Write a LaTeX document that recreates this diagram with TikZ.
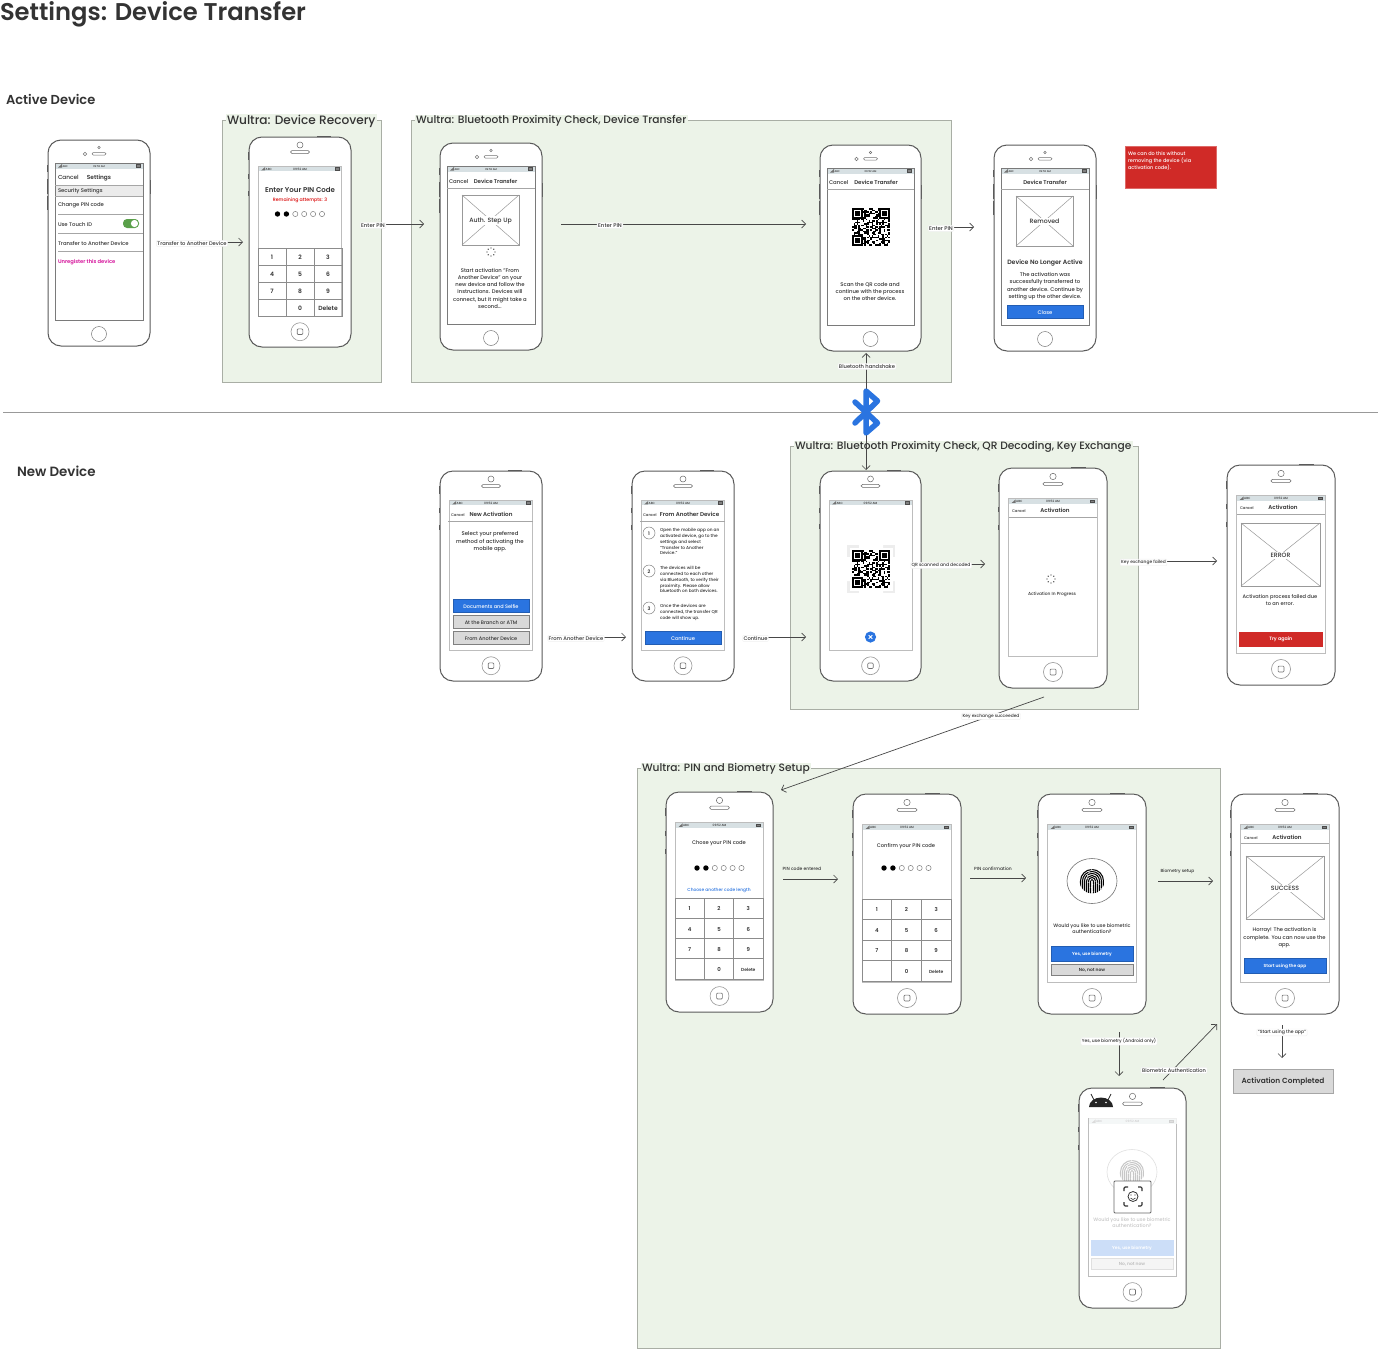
\documentclass[tikz,border=0pt]{standalone}
\usepackage{fontspec}
\setmainfont{Poppins}[UprightFont=* Medium,BoldFont=* SemiBold]
\usetikzlibrary{arrows.meta}
\definecolor{ink}{HTML}{333333}
\definecolor{groupfill}{HTML}{ECF3E8}
\definecolor{groupline}{HTML}{A9AEA5}
\definecolor{bodyline}{HTML}{5A5A5A}
\definecolor{scrline}{HTML}{7A7A7A}
\definecolor{scrlight}{HTML}{BDBDBD}
\definecolor{statusbg}{HTML}{D7E0E3}
\definecolor{brandblue}{HTML}{2A74E0}
\definecolor{brandred}{HTML}{D02A27}
\definecolor{btngrey}{HTML}{D9D9D9}
\definecolor{magentatext}{HTML}{D5109A}
\definecolor{toggle}{HTML}{5AA04A}
\newcounter{tn}
\tikzset{
  x=1pt,y=-1pt,
  txt/.style={inner sep=0pt,outer sep=0pt,text=ink,yshift=-.7pt},
  phonebody/.style={draw=bodyline,fill=white,line width=1pt,rounded corners=13pt,inner sep=0pt,outer sep=0pt},
  sidebtn/.style={fill=bodyline,draw=none},
  conn/.style={draw=ink!90,line width=.7pt,-{Straight Barb[length=4pt,width=8pt]}},
  connlabel/.style={txt,fill=white,inner sep=1pt,rounded corners=1pt,draw=black!6,line width=.4pt},
  rowline/.style={draw=black!35,line width=.7pt},
  keyline/.style={draw=black!45,line width=.7pt},
}
\newcommand\T[5][]{\stepcounter{tn}\node[txt,font=\fontsize{#4}{#4}\selectfont,#1] (t\arabic{tn}) at ({#2},{#3}) {#5};}
\newcommand\B[6][]{\stepcounter{tn}\node[txt,align=center,font=\fontsize{#4}{#5}\selectfont,#1] (t\arabic{tn}) at ({#2},{#3}) {#6};}
\newcommand\statusbar[4]{% x0 y0 x1 textsize
  \fill[statusbg] (#1,#2) rectangle (#3,{#2+5.5});
  \fill[black!55] ({#1+3},{#2+4.5}) -- ({#1+7},{#2+4.5}) -- ({#1+7},{#2+1}) -- cycle;
  \T[anchor=west]{#1+7.5}{#2+2.8}{#4}{ABC}
  \T{(#1+#3)/2}{#2+2.8}{#4}{09:52 AM}
  \draw[black!70,fill=black!50,line width=.3pt] ({#3-7},{#2+1.4}) rectangle ({#3-3},{#2+4});
}
\newcommand\phoneA[5]{% name x0 y0 x1 y1
  \fill[sidebtn] ({#2-1},{#3+25}) rectangle (#2,{#3+32});
  \fill[sidebtn] ({#2-1},{#3+39}) rectangle (#2,{#3+54});
  \fill[sidebtn] ({#2-1},{#3+56}) rectangle (#2,{#3+70});
  \fill[sidebtn] (#4,{#3+40}) rectangle ({#4+1},{#3+54});
  \pgfmathsetmacro\pw{#4-#2}\pgfmathsetmacro\ph{#5-#3}
  \node[phonebody,minimum width=\pw pt,minimum height=\ph pt] (#1) at ({(#2+#4)/2},{(#3+#5)/2}) {};
  \fill[white] ({#2+7},{#3+23}) rectangle ({#4-7},{#5-26});
  \statusbar{#2+7}{#3+23}{#4-7}{2.6}
  \draw[scrline,line width=.9pt] ({#2+7},{#3+23}) rectangle ({#4-7},{#5-26});
  \draw[scrline,line width=.5pt,fill=white] ({(#2+#4)/2},{#5-12}) circle (7.5);
  \draw[black!55,line width=.5pt,fill=white,rounded corners=1.2pt] ({(#2+#4)/2-7},{#3+12.5}) rectangle ({(#2+#4)/2+7},{#3+15});
  \draw[black!55,line width=.5pt] ({(#2+#4)/2-14},{#3+14}) circle (1.8);
  \draw[black!55,line width=.5pt] ({(#2+#4)/2},{#3+7.5}) circle (1.2);
}
\newcommand\phoneB[5]{%
  \pgfmathsetmacro\pw{#4-#2}\pgfmathsetmacro\ph{#5-#3}
  \pgfmathsetmacro\pk{\pw/102}
  \pgfmathsetmacro\pcx{(#2+#4)/2}
  \pgfmathsetmacro\pmx{\pw*.09}
  \pgfmathsetmacro\ptop{\ph*.138}\pgfmathsetmacro\pbot{\ph*.145}
  \fill[sidebtn] ({#2-1},{#3+15*\pk}) rectangle (#2,{#3+23*\pk});
  \fill[sidebtn] ({#2-1},{#3+37*\pk}) rectangle (#2,{#3+42*\pk});
  \fill[sidebtn] ({#2-1},{#3+54*\pk}) rectangle (#2,{#3+59*\pk});
  \fill[sidebtn] ({#2+68*\pk},{#3-1}) rectangle ({#2+82*\pk},#3);
  \node[phonebody,minimum width=\pw pt,minimum height=\ph pt] (#1) at (\pcx,{(#3+#5)/2}) {};
  \statusbar{#2+\pmx}{#3+\ptop}{#4-\pmx}{3}
  \draw[scrlight,line width=.8pt] ({#2+\pmx},{#3+\ptop}) rectangle ({#4-\pmx},{#5-\pbot});
  \draw[scrlight!80!black,line width=.6pt] (\pcx,{#5-\ph*.0727}) circle ({9*\pk});
  \draw[scrlight!60!black,line width=.6pt,rounded corners=1pt] ({\pcx-2.8*\pk},{#5-\ph*.0727-2.8*\pk}) rectangle ({\pcx+2.8*\pk},{#5-\ph*.0727+2.8*\pk});
  \draw[black!60,line width=.5pt,rounded corners=1.5pt] ({\pcx-9.5*\pk},{#3+13.5*\pk}) rectangle ({\pcx+9.5*\pk},{#3+16.5*\pk});
  \draw[black!60,line width=.5pt] (\pcx,{#3+8*\pk}) circle ({3*\pk});
}
\newcommand\keypad[6]{% x0 y0 x1 y1 numsize delsize
  \draw[keyline] (#1,#2) rectangle (#3,#4);
  \foreach \c in {1,2} \draw[keyline] ({#1+\c*(#3-#1)/3},#2) -- ({#1+\c*(#3-#1)/3},#4);
  \foreach \r in {1,2,3} \draw[keyline] (#1,{#2+\r*(#4-#2)/4}) -- (#3,{#2+\r*(#4-#2)/4});
  \foreach \lab/\c/\r in {1/0/0,2/1/0,3/2/0,4/0/1,5/1/1,6/2/1,7/0/2,8/1/2,9/2/2,0/1/3}
    {\T{#1+(\c+.5)*(#3-#1)/3}{#2+(\r+.5)*(#4-#2)/4}{#5}{\bfseries\lab}}
  \T{#1+2.5*(#3-#1)/3}{#2+3.5*(#4-#2)/4}{#6}{\bfseries Delete}
}
\newcommand\pindots[3]{% x0 y spacing
  \foreach \k in {0,1} \fill[black] ({#1+\k*#3},#2) circle (2.7);
  \foreach \k in {2,3,4,5} \draw[black!50,line width=.5pt,fill=white] ({#1+\k*#3},#2) circle (2.6);
}
\newcommand\imgbox[5]{% x0 y0 x1 y1 label
  \draw[black!40,line width=.7pt,fill=white] (#1,#2) rectangle (#3,#4);
  \draw[black!40,line width=.5pt] (#1,#2) -- (#3,#4) (#1,#4) -- (#3,#2);
  \T[fill=white,inner sep=1.2pt]{(#1+#3)/2}{(#2+#4)/2}{6.2}{#5}
}
\newcommand\btn[9]{% x0 y0 x1 y1 fill draw textcolor size text
  \draw[fill=#5,draw=#6,line width=.5pt] (#1,#2) rectangle (#3,#4);
  \T[text=#7]{(#1+#3)/2}{(#2+#4)/2}{#8}{#9}
}
\newcommand\spinner[2]{\foreach \a in {0,45,...,315} \fill[ink] ({#1+4*cos(\a)},{#2+4*sin(\a)}) circle (.7);}
\newcommand\qr[3]{% x0 y0 size
  \pgfmathsetseed{4217}
  \pgfmathsetmacro\m{#3/25}
  \foreach \i in {0,...,24}{\foreach \j in {0,...,24}{
    \pgfmathtruncatemacro\b{rnd<0.52?1:0}
    \ifnum\b=1 \fill[black] ({#1+\i*\m},{#2+\j*\m}) rectangle ({#1+(\i+1)*\m},{#2+(\j+1)*\m});\fi}}
  \foreach \px/\py in {0/0,18/0,0/18}{
    \fill[white] ({#1+(\px-.5)*\m},{#2+(\py-.5)*\m}) rectangle ({#1+(\px+7.5)*\m},{#2+(\py+7.5)*\m});
    \fill[black] ({#1+\px*\m},{#2+\py*\m}) rectangle ({#1+(\px+7)*\m},{#2+(\py+7)*\m});
    \fill[white] ({#1+(\px+1)*\m},{#2+(\py+1)*\m}) rectangle ({#1+(\px+6)*\m},{#2+(\py+6)*\m});
    \fill[black] ({#1+(\px+2)*\m},{#2+(\py+2)*\m}) rectangle ({#1+(\px+5)*\m},{#2+(\py+5)*\m});}
}
\newcommand\fingerprint[2]{%
  \begin{scope}
  \clip (#1,#2) circle (12.5);
  \foreach \r/\d/\g in {1.5/6/1,3.5/11/1.3,5.5/15/1.3,7.5/19/1.4,9.5/24/1.5,11.5/30/1.5}
    \draw[black,line width=1.05pt,line cap=round,dash pattern=on \d pt off \g pt]
      ({#1-\r},{#2+13}) -- ({#1-\r},{#2}) arc[start angle=180,end angle=360,radius=\r] -- ({#1+\r},{#2+13});
  \end{scope}
}
\newcommand\group[7][10.65]{% size name x0 y0 x1 y1 title
  \draw[fill=groupfill,draw=groupline,line width=1pt] (#3,#4) rectangle (#5,#6);
  \coordinate (#2) at (#3,#4);
  \T[anchor=west,fill=groupfill,inner xsep=1.5pt,inner ysep=1pt]{#3+3.5}{#4+.5}{#1}{#7}
}
\newcommand\conn[5]{% name x1 y1 x2 y2
  \coordinate (#1s) at (#2,#3);\coordinate (#1e) at (#4,#5);
  \draw[conn] (#1s) -- (#1e);
}
\newcommand\lab[4]{\T[connlabel]{#1}{#2}{#3}{#4}}
\begin{document}
\begin{tikzpicture}
\useasboundingbox (0,0) rectangle (1378,1349);
\fill[white] (0,0) rectangle (1378,1349);
% headings
\T[anchor=west]{0}{14}{24.2}{\bfseries Settings: Device Transfer}
\T[anchor=west]{6}{99}{13}{\bfseries Active Device}
\T[anchor=west]{17}{471}{13.4}{\bfseries New Device}
% groups
\group[12.15]{g1}{222}{120}{381}{382}{Wultra: Device Recovery}
\group{g2}{411}{120}{951}{382}{Wultra: Bluetooth Proximity Check, Device Transfer}
\group{g3}{790}{446}{1138}{709}{Wultra: Bluetooth Proximity Check, QR Decoding, Key Exchange}
\group{g4}{637}{768}{1220}{1348.5}{Wultra: PIN and Biometry Setup}
\draw[black!40,line width=.9pt] (3,412) -- (1378,412);
% P1 settings
\phoneA{p1}{48}{140}{150}{346}
\T[anchor=west]{58}{177}{5.8}{Cancel}
\T{99}{177}{5.8}{\bfseries Settings}
\fill[black!8] (55.5,185) rectangle (142.5,196);
\draw[rowline] (55,185) -- (143,185) (55,196) -- (143,196) (58,214) -- (143,214) (58,233) -- (143,233) (58,251) -- (143,251);
\T[anchor=west]{58}{190.5}{5.3}{Security Settings}
\T[anchor=west]{58}{205}{5.3}{Change PIN code}
\T[anchor=west]{58}{223.5}{5.3}{Use Touch ID}
\fill[toggle,rounded corners=4pt] (123,219) rectangle (139,228);
\fill[white] (134.5,223.5) circle (3.6);
\T[anchor=west]{58}{242.5}{5.3}{Transfer to Another Device}
\T[anchor=west,text=magentatext]{58}{261}{5.2}{\bfseries Unregister this device}
% P2 pin
\phoneB{p2}{249}{137}{351}{347}
\T{300}{189}{7}{\bfseries Enter Your PIN Code}
\T[text=red!85!black]{300}{199.5}{4.7}{Remaining attempts: 3}
\pindots{277.5}{214}{8.9}
\keypad{258}{248}{342}{316}{6}{6}
% P3 auth step up
\phoneA{p3}{440}{143}{542}{350}
\T[anchor=west]{449}{180.5}{5.4}{Cancel}
\T{495.5}{180.5}{5.5}{\bfseries Device Transfer}
\draw[rowline] (447,188.5) -- (535,188.5);
\imgbox{462}{195}{519}{245}{Auth. Step Up}
\spinner{491}{252}
\B{490}{287.5}{5.3}{7.2}{Start activation "From\\Another Device" on your\\new device and follow the\\instructions. Devices will\\connect, but it might take a\\second...}
% P4 qr
\phoneA{p4}{820}{145}{921}{351}
\T[anchor=west]{829}{181.5}{5.4}{Cancel}
\T{876}{181.5}{5.5}{\bfseries Device Transfer}
\draw[rowline] (827,189) -- (914,189);
\qr{852}{208}{38}
\B{870}{291}{5.3}{7.2}{Scan the QR code and\\continue with the process\\on the other device.}
% P5 removed
\phoneA{p5}{994}{145}{1096}{351}
\T{1045}{181.5}{5.5}{\bfseries Device Transfer}
\draw[rowline] (1001,189) -- (1089,189);
\imgbox{1016}{196}{1073}{246}{Removed}
\T{1045}{262.5}{6.2}{\bfseries Device No Longer Active}
\B{1045}{285.5}{5.3}{7.2}{The activation was\\successfully transferred to\\another device. Continue by\\setting up the other device.}
\btn{1007}{305}{1083}{318}{brandblue}{brandblue!80!black}{white}{5.2}{Close}
% red note
\draw[fill=brandred,draw=brandred!70!white,line width=.4pt] (1125,146) rectangle (1216,188);
\B[anchor=north west,align=left,text=white]{1128}{150.5}{5}{7.1}{We can do this without\\removing the device (via\\activation code).}
% P6 new activation
\phoneB{p6}{440}{471}{542}{681}
\T[anchor=west]{451}{514}{3.8}{Cancel}
\T{491}{514}{5.6}{\bfseries New Activation}
\draw[rowline] (448,521.5) -- (533,521.5);
\B{490}{541}{5.4}{7.2}{Select your preferred\\method of activating the\\mobile app.}
\btn{453}{599.5}{529}{612.5}{brandblue}{brandblue!80!black}{white}{5}{Documents and Selfie}
\btn{453}{615}{529}{628}{btngrey}{black!50}{ink}{5}{At the Branch or ATM}
\btn{453}{631}{529}{644}{btngrey}{black!50}{ink}{5}{From Another Device}
% P7 steps
\phoneB{p7}{632}{471}{734}{681}
\T[anchor=west]{643}{514}{3.8}{Cancel}
\T{689.5}{514}{5.6}{\bfseries From Another Device}
\draw[rowline] (640,521.5) -- (725,521.5);
\foreach \n/\yy in {1/533,2/571,3/608}{
  \draw[black!50,line width=.5pt] (649,\yy) circle (6);
  \T{649}{\yy}{4.8}{\bfseries\n}
}
\B[anchor=north west,align=left]{660}{527.5}{4.3}{5.85}{Open the mobile app on an\\activated device, go to the\\settings and select\\"Transfer to Another\\Device."}
\B[anchor=north west,align=left]{660}{565.5}{4.3}{5.85}{The devices will be\\connected to each other\\via Bluetooth, to verify their\\proximity. Please allow\\bluetooth on both devices.}
\B[anchor=north west,align=left]{660}{603.5}{4.3}{5.85}{Once the devices are\\connected, the transfer QR\\code will show up.}
\btn{645}{631}{721}{644}{brandblue}{brandblue!80!black}{white}{5.2}{Continue}
% P8 scan
\phoneB{p8}{820}{471}{921}{681}
\fill[black!7] (847,545) rectangle (895,593);
\fill[white] (859,545) rectangle (883,593) (847,557) rectangle (895,581);
\fill[white] (849.5,547.5) rectangle (892.5,590.5);
\qr{852}{550}{37.5}
\fill[brandblue] (870.5,637) circle (5.6);
\draw[white,line width=1pt] (868.7,635.2) -- (872.3,638.8) (868.7,638.8) -- (872.3,635.2);
% P9 in progress
\phoneB{p9}{999}{468}{1107}{688}
\T[anchor=west]{1012}{510}{3.8}{Cancel}
\T{1055}{510}{5.6}{\bfseries Activation}
\draw[rowline] (1009,517) -- (1097,517);
\spinner{1051}{579}
\T{1052}{594}{4.4}{Activation In Progress}
% P10 error
\phoneB{p10}{1227}{465}{1335}{685}
\T[anchor=west]{1240}{507}{3.8}{Cancel}
\T{1283}{507}{5.6}{\bfseries Activation}
\draw[rowline] (1237,514) -- (1325,514);
\imgbox{1241}{523}{1320}{586}{ERROR}
\B{1280}{599.5}{5.1}{7}{Activation process failed due\\to an error.}
\btn{1239.5}{632}{1322}{646}{brandred}{brandred}{white}{4.8}{\bfseries Try again}
% P11
\phoneB{p11}{666}{792}{773}{1012}
\T{719}{842.5}{5.2}{Chose your PIN code}
\pindots{697}{868}{8.9}
\T[text=brandblue]{719}{890}{4.4}{Choose another code length}
\keypad{675}{898}{763}{979}{5.4}{4.4}
% P12
\phoneB{p12}{853}{794}{961}{1014}
\T{906}{845.5}{5.2}{Confirm your PIN code}
\pindots{884}{868}{8.9}
\keypad{862}{899}{951}{981}{5.4}{4.4}
% P13
\phoneB{p13}{1038}{794}{1146}{1014}
\draw[black!55,line width=.6pt] (1092,881) ellipse (25 and 22.5);
\fingerprint{1092}{881}
\B{1092}{928}{4.9}{6.4}{Would you like to use biometric\\authentication?}
\btn{1051}{946}{1133}{961}{brandblue}{brandblue!80!black}{white}{4.4}{\bfseries Yes, use biometry}
\btn{1051}{964}{1133}{975}{btngrey}{black!50}{ink}{4.4}{\bfseries No, not now}
% P14
\phoneB{p14}{1231}{794}{1339}{1014}
\T[anchor=west]{1244}{837}{3.8}{Cancel}
\T{1287}{837}{5.6}{\bfseries Activation}
\draw[rowline] (1241,843.5) -- (1329,843.5);
\imgbox{1246}{856}{1324}{919}{SUCCESS}
\B{1284.5}{937}{5.2}{7.2}{Horray! The activation is\\complete. You can now use the\\app.}
\btn{1244}{958.5}{1326}{973}{brandblue}{brandblue!80!black}{white}{4.4}{\bfseries Start using the app}
% P15
\phoneB{p15}{1079}{1088}{1186}{1308}
\fill[white,opacity=.75] (1088.5,1118) rectangle (1176.5,1124);
\begin{scope}[opacity=.22]
\draw[black!55,line width=.6pt] (1132,1172) ellipse (25 and 22.5);
\fingerprint{1132}{1172}
\end{scope}
\B[text=black!22]{1132}{1222}{4.9}{6.4}{Would you like to use biometric\\authentication?}
\btn{1091}{1240}{1173}{1255}{brandblue!24!white}{brandblue!24!white}{white}{4.4}{\bfseries Yes, use biometry}
\btn{1091}{1258}{1173}{1269}{black!4}{black!12}{black!25}{4.4}{\bfseries No, not now}
% android head
\fill[ink!70!black] (1089,1107) arc[start angle=180,end angle=360,x radius=12,y radius=9.5] -- cycle;
\draw[ink!70!black,line width=.8pt] (1094,1100) -- (1091,1094) (1108,1100) -- (1111,1094);
\fill[white] (1096,1102.5) circle (.9) (1106,1102.5) circle (.9);
% face id box
\draw[black!60,fill=white,line width=.8pt,rounded corners=1pt] (1114,1181) rectangle (1151,1213);
\draw[ink,line width=1.1pt,rounded corners=1.2pt]
  (1124,1191) -- (1124,1187) -- (1128,1187)
  (1138,1187) -- (1142,1187) -- (1142,1191)
  (1142,1202) -- (1142,1206) -- (1138,1206)
  (1128,1206) -- (1124,1206) -- (1124,1202);
\draw[ink,line width=.8pt] (1133,1196.5) circle (5);
\fill[ink] (1131,1195) circle (.7) (1135,1195) circle (.7);
\draw[ink,line width=.6pt] (1130.5,1198) .. controls (1132,1200) and (1134,1200) .. (1135.5,1198);
% activation completed
\draw[fill=btngrey,draw=black!35,line width=.7pt] (1233,1069) rectangle (1333,1093);
\T{1283}{1081}{7.4}{\bfseries Activation Completed}
% connectors
\conn{c1}{192}{242}{243}{242}
\lab{192}{242}{5.2}{Transfer to Another Device}
\conn{c2}{373}{224}{424}{224}
\lab{373}{224}{5.4}{Enter PIN}
\conn{c3}{561}{224}{806}{224}
\lab{610}{224}{5.4}{Enter PIN}
\conn{c4}{941}{227}{974}{227}
\lab{941}{227}{5.4}{Enter PIN}
\coordinate (bt) at (866,412);
\conn{c5}{866}{412}{866}{353}
\conn{c6}{866}{412}{866}{470}
\lab{867}{365}{5.2}{Bluetooth handshake}
\conn{c7}{576}{637}{626}{637}
\lab{576}{637}{5.2}{From Another Device}
\conn{c8}{755.5}{637}{806}{637}
\lab{755.5}{637}{5.2}{Continue}
\conn{c9}{941}{564}{985}{564}
\lab{941}{564}{4.5}{QR scanned and decoded}
\conn{c10}{1143.5}{561}{1217}{561}
\lab{1143.5}{561}{4.4}{Key exchange failed}
\conn{c11}{1044}{697}{781}{790}
\lab{991}{715}{4.4}{Key exchange succeeded}
\conn{c12}{783}{879}{838}{879}
\T{802}{868}{4.5}{PIN code entered}
\conn{c13}{970}{878}{1026}{878}
\T{993}{868}{4.5}{PIN confirmation}
\conn{c14}{1158}{881}{1213}{881}
\T{1177.5}{871}{4.4}{Biometry setup}
\conn{c15}{1119}{1032}{1119}{1076}
\lab{1119}{1040}{4.5}{Yes, use biometry (Android only)}
\conn{c16}{1163}{1080}{1217}{1024}
\lab{1174}{1069}{5.1}{Biometric Authentication}
\conn{c17}{1282}{1025}{1282}{1058}
\lab{1282}{1031}{4.6}{"Start using the app"}
% bluetooth icon
\draw[brandblue,line width=5.5pt,line join=round,line cap=round]
  (855,402) -- (877.5,423) -- (866,433) -- (866,391) -- (877.5,401) -- (855,423);
\end{tikzpicture}
\end{document}
